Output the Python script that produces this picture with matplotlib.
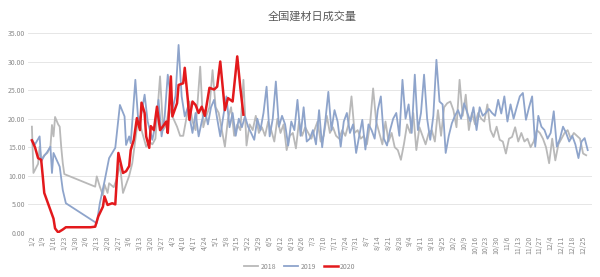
import matplotlib
matplotlib.use("Agg")
import matplotlib.pyplot as plt

plt.rcParams['font.family'] = ['Noto Sans CJK SC', 'DejaVu Sans']

title = "全国建材日成交量"
series_names = ["2018", "2019", "2020"]

tick_labels = ["1/2", "1/9", "1/16", "1/23", "1/30", "2/6", "2/13", "2/20", "2/27", "3/6",
               "3/13", "3/20", "3/27", "4/3", "4/10", "4/17", "4/24", "5/1", "5/8", "5/15",
               "5/22", "5/29", "6/5", "6/12", "6/19", "6/26", "7/3", "7/10", "7/17", "7/24",
               "7/31", "8/7", "8/14", "8/21", "8/28", "9/4", "9/11", "9/18", "9/25", "10/2",
               "10/9", "10/16", "10/23", "10/30", "11/6", "11/13", "11/20", "11/27", "12/4",
               "12/11", "12/18", "12/25"]
tick_days = [7 * i for i in range(len(tick_labels))]

# ---- 2018 (days counted from Jan 2) ----
days_2018_early = [0, 1, 4, 5, 6, 8, 10, 12, 13, 14, 15, 17, 18, 19, 20, 21, 41, 42, 44, 46, 47,
                   49, 50, 53, 55, 57, 59, 61, 63, 65, 67, 69, 71, 74, 76, 78, 80, 83, 85, 87, 89,
                   91, 94, 96, 98, 100, 102, 104, 106, 109, 111, 113, 115, 117, 119, 121, 123,
                   125, 127, 129, 131, 133, 135, 137]
vals_2018_early = [18.6, 10.5, 12.1, 15.1, 12.8, 13.6, 14.0, 15.1, 18.9, 16.9, 20.3, 19.0, 18.6,
                   15.0, 12.2, 10.3, 8.1, 9.9, 8.1, 6.6, 8.5, 7.0, 8.7, 8.0, 9.5, 12.0, 7.0, 8.5,
                   10.0, 12.2, 16.3, 20.4, 18.0, 15.1, 16.0, 15.5, 16.5, 27.4, 18.0, 19.0, 22.0,
                   20.4, 18.6, 17.0, 17.0, 20.0, 23.0, 19.5, 18.0, 29.1, 18.5, 20.5, 22.0, 28.5,
                   22.0, 21.0, 18.0, 15.1, 20.0, 22.0, 17.0, 19.0, 18.0, 26.8]
days_2018_late = list(range(139, 360, 2))
vals_2018_late = [15.3, 19.0, 18.0, 20.5, 17.5, 18.5, 17.0, 19.5, 18.0, 16.0, 20.0, 17.5, 19.0,
                  14.5, 17.0, 17.5, 14.8, 19.5, 17.0, 18.5, 17.5, 16.5, 18.0, 19.5, 16.0, 17.0,
                  20.5, 17.5, 18.5, 17.0, 16.5, 18.0, 17.0, 19.0, 23.9, 17.5, 18.0, 16.5, 17.0,
                  15.5, 19.0, 25.3, 19.5, 17.5, 15.5, 19.5, 16.0, 17.5, 15.0, 14.5, 12.8, 15.6,
                  19.0, 17.5, 21.0, 14.5, 18.5, 17.0, 15.5, 17.5, 18.0, 16.0, 21.5, 17.0, 22.0,
                  22.7, 23.0, 21.5, 18.5, 26.8, 20.5, 24.2, 18.0, 21.0, 19.0, 21.0, 20.0, 19.5,
                  22.5, 18.0, 16.8, 18.6, 16.3, 16.0, 13.9, 16.5, 16.8, 18.5, 16.0, 17.5, 16.0,
                  16.5, 15.0, 16.0, 18.0, 17.5, 16.5, 15.0, 12.2, 16.5, 12.7, 15.5, 16.5, 17.5,
                  18.0, 16.5, 17.5, 17.0, 16.5, 13.9, 13.6]

# ---- 2019 ----
days_2019_early = [0, 2, 5, 6, 8, 10, 12, 13, 14, 16, 18, 20, 22, 42, 44, 47, 50, 54, 57, 60, 61,
                   63, 64, 67, 69, 71, 73, 75, 78, 80, 82, 84, 86, 88, 91, 93, 95, 97, 99, 101,
                   104, 106, 108, 110, 112, 114, 116, 118, 120, 122, 124, 126, 128, 130, 132,
                   134, 136, 138]
vals_2019_early = [16.3, 15.5, 16.9, 12.5, 13.5, 14.2, 15.1, 10.5, 14.0, 12.8, 11.6, 7.5, 5.2,
                   1.7, 5.2, 9.0, 13.1, 14.9, 22.4, 20.4, 15.4, 16.9, 15.7, 26.8, 19.2, 21.0,
                   24.2, 19.5, 16.3, 19.0, 23.3, 16.9, 20.4, 27.7, 21.5, 24.0, 32.9, 23.9, 20.4,
                   22.0, 17.5, 21.0, 16.9, 19.5, 21.5, 19.0, 22.0, 23.3, 20.0, 16.9, 20.5, 23.9,
                   18.5, 21.0, 17.0, 20.0, 18.5, 20.4]
days_2019_late = list(range(140, 361, 2))
vals_2019_late = [18.6, 17.5, 16.3, 20.0, 18.0, 21.0, 25.6, 16.9, 20.0, 26.5, 18.6, 20.5, 19.0,
                  15.3, 19.5, 18.0, 23.3, 17.0, 22.0, 16.0, 16.5, 18.0, 15.5, 21.5, 15.0, 19.5,
                  24.7, 18.0, 21.5, 19.5, 15.1, 19.5, 21.0, 17.5, 19.0, 14.0, 17.0, 19.8, 14.6,
                  19.0, 18.0, 16.5, 21.5, 23.9, 16.5, 15.3, 18.0, 20.0, 21.0, 17.0, 26.8, 20.0,
                  22.5, 17.5, 27.7, 18.0, 21.0, 27.7, 20.0, 16.3, 20.5, 30.3, 23.0, 22.5, 14.0,
                  17.0, 19.2, 20.5, 21.5, 20.0, 22.7, 21.0, 19.5, 22.0, 18.0, 22.0, 20.5, 21.0,
                  21.7, 21.0, 20.5, 23.3, 20.9, 23.9, 19.5, 22.5, 20.0, 22.0, 23.9, 24.5, 19.8,
                  22.0, 23.9, 15.1, 20.5, 18.6, 18.0, 16.5, 17.5, 21.3, 15.1, 16.5, 18.6, 17.5,
                  16.0, 17.0, 15.5, 13.1, 16.0, 16.6, 14.5]

# ---- 2020 ----
days_2020 = [0, 2, 4, 6, 7, 8, 10, 12, 14, 15, 17, 20, 22, 30, 38, 41, 43, 46, 47, 49, 52, 54,
             56, 59, 61, 63, 64, 66, 68, 70, 71, 73, 74, 76, 77, 79, 81, 83, 85, 87, 88, 90, 91,
             94, 95, 98, 99, 101, 102, 104, 106, 108, 110, 112, 115, 118, 120, 122, 125, 127,
             130, 133, 135, 137]
vals_2020 = [16.2, 15.0, 13.1, 12.8, 10.0, 7.0, 5.5, 4.0, 2.5, 0.8, 0.1, 0.6, 1.0, 1.0, 1.0,
             1.1, 2.9, 4.6, 6.4, 4.9, 5.2, 5.0, 14.0, 10.5, 10.8, 11.7, 14.5, 16.3, 20.1, 18.0,
             22.8, 21.0, 16.9, 14.9, 18.7, 18.0, 22.1, 18.0, 18.7, 19.5, 17.5, 27.4, 20.4, 22.7,
             25.9, 26.2, 28.9, 23.3, 19.8, 23.0, 22.4, 21.0, 22.1, 20.5, 25.4, 25.1, 25.6, 30.0,
             21.5, 23.6, 23.0, 30.9, 25.4, 20.7]

days_2018 = days_2018_early + days_2018_late
vals_2018 = vals_2018_early + vals_2018_late
days_2019 = days_2019_early + days_2019_late
vals_2019 = vals_2019_early + vals_2019_late
assert len(days_2018) == len(vals_2018)
assert len(days_2019) == len(vals_2019)
assert len(days_2020) == len(vals_2020)

fig = plt.figure(figsize=(6.0, 2.77), dpi=100)
ax = fig.add_axes([0.047, 0.159, 0.94, 0.722])

ax.plot(days_2018, vals_2018, color="#b9b9b9", lw=1.3, label=series_names[0])
ax.plot(days_2019, vals_2019, color="#8ea4cb", lw=1.3, label=series_names[1])
ax.plot(days_2020, vals_2020, color="#e3191c", lw=1.8, label=series_names[2])

ax.set_xlim(-2.4, 362.9)
ax.set_ylim(0, 35)
ax.set_yticks(range(0, 36, 5))
ax.set_yticklabels([f"{v:.2f}" for v in range(0, 36, 5)])
ax.set_xticks(tick_days)
ax.set_xticklabels(tick_labels, rotation=90)
ax.tick_params(axis='both', length=0, labelsize=5, colors="#8a8a8a", pad=2)
ax.grid(axis='y', color="#e6e6e6", lw=0.7)
ax.set_axisbelow(True)
for s in ax.spines.values():
    s.set_visible(False)
ax.axhline(0, color="#d9d9d9", lw=0.7, zorder=0)

fig.text(0.52, 0.94, title, ha='center', va='center', fontsize=8, color="#595959")
fig.legend(loc='lower center', bbox_to_anchor=(0.5, 0.0), ncol=3, frameon=False,
           fontsize=5, handlelength=2.0, columnspacing=1.2, handletextpad=0.3,
           labelcolor="#8a8a8a")

fig.savefig("out.png", dpi=100)
